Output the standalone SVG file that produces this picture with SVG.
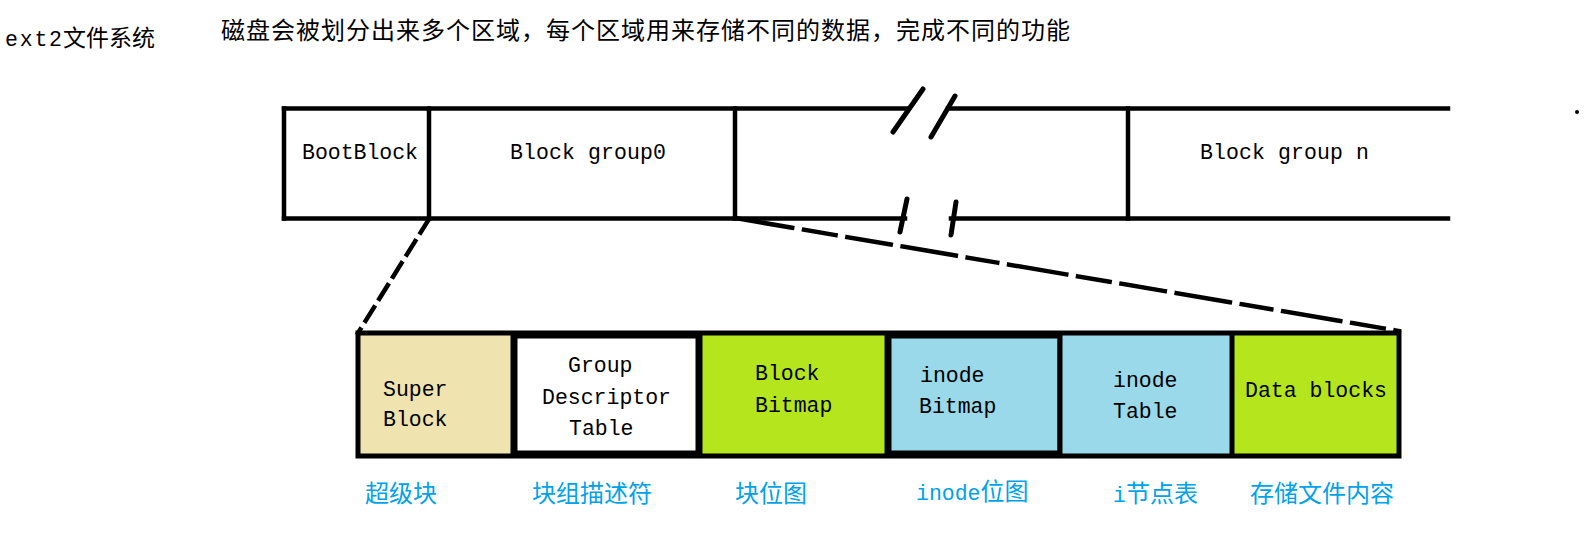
<svg xmlns="http://www.w3.org/2000/svg" width="1590" height="537" viewBox="0 0 1590 537">
<style>
.lat{font-family:"Liberation Mono","DejaVu Sans Mono",monospace;font-size:21.5px;fill:#000}
.cjk{font-family:"Noto Sans CJK SC",sans-serif;fill:#000}
.lbl{font-family:"Noto Sans CJK SC",sans-serif;font-size:24px;fill:#00A2E8}
.lbll{font-family:"Liberation Mono",monospace;font-size:21.5px;fill:#00A2E8}
.ln{stroke:#000;stroke-width:4.5;fill:none;stroke-linecap:square}
.ln5{stroke:#000;stroke-width:5;fill:none}
.cut{stroke:#000;stroke-width:5;fill:none;stroke-linecap:round}
</style>
<rect width="1590" height="537" fill="#fff"/>
<g id="header">
<text class="lat" x="5" y="46" font-size="23" textLength="57" lengthAdjust="spacing">ext2</text>
<text class="cjk" x="63" y="46" font-size="23">文件系统</text>
<text class="cjk" x="221" y="39" font-size="24" textLength="849" lengthAdjust="spacing">磁盘会被划分出来多个区域，每个区域用来存储不同的数据，完成不同的功能</text>
<circle cx="1577" cy="112" r="2" fill="#000"/>
</g>
<g id="disk">
<line class="ln" x1="284" y1="108.5" x2="906" y2="108.5"/>
<line class="ln" x1="948" y1="108.5" x2="1448" y2="108.5"/>
<line class="ln" x1="284" y1="218.5" x2="905" y2="218.5"/>
<line class="ln" x1="951" y1="218.5" x2="1448" y2="218.5"/>
<line class="ln" x1="284" y1="108.5" x2="284" y2="218.5"/>
<line class="cut" x1="923" y1="89" x2="893" y2="132"/>
<line class="cut" x1="955" y1="96" x2="931" y2="137"/>
<line class="cut" x1="907" y1="199" x2="900" y2="232"/>
<line class="cut" x1="956" y1="202" x2="951" y2="235"/>
</g>
<g id="bootblock">
<line class="ln" x1="429" y1="108.5" x2="429" y2="218.5"/>
<text class="lat" x="302" y="159" textLength="116" lengthAdjust="spacing">BootBlock</text>
</g>
<g id="blockgroup0">
<line class="ln" x1="735" y1="108.5" x2="735" y2="218.5"/>
<text class="lat" x="510" y="159" textLength="156" lengthAdjust="spacing">Block group0</text>
</g>
<g id="blockgroupn">
<line class="ln" x1="1128" y1="108.5" x2="1128" y2="218.5"/>
<text class="lat" x="1200" y="159" textLength="169" lengthAdjust="spacing">Block group n</text>
</g>
<g id="connectors">
<line class="ln" x1="429" y1="219" x2="358" y2="333" stroke-dasharray="16 10" stroke-linecap="butt"/>
<line class="ln" x1="735" y1="218" x2="1399" y2="331" stroke-width="5" stroke-dasharray="58 12 32 12 44 12 54 12 30 12" stroke-linecap="butt"/>
</g>
<g id="superblock">
<rect x="358" y="333" width="155" height="123" fill="#EFE4B0"/>
<text class="lat" x="383" y="396">Super</text>
<text class="lat" x="383" y="426">Block</text>
<text class="lbl" x="365" y="502">超级块</text>
</g>
<g id="gdt">
<rect x="513" y="333" width="187" height="123" fill="#fff"/>
<rect class="ln5" x="515" y="336" width="183" height="117"/>
<text class="lat" x="568" y="372">Group</text>
<text class="lat" x="542" y="404">Descriptor</text>
<text class="lat" x="569" y="435">Table</text>
<text class="lbl" x="532" y="502">块组描述符</text>
</g>
<g id="blockbitmap">
<rect x="700" y="333" width="187" height="123" fill="#B5E61D"/>
<text class="lat" x="755" y="380">Block</text>
<text class="lat" x="755" y="412">Bitmap</text>
<text class="lbl" x="735" y="502">块位图</text>
</g>
<g id="inodebitmap">
<rect x="887" y="333" width="173" height="123" fill="#99D9EA"/>
<rect class="ln5" x="889" y="336" width="171" height="117"/>
<text class="lat" x="920" y="382">inode</text>
<text class="lat" x="919" y="413">Bitmap</text>
<text x="916" y="500"><tspan class="lbll">inode</tspan><tspan class="lbl">位图</tspan></text>
</g>
<g id="inodetable">
<rect x="1060" y="333" width="172" height="123" fill="#99D9EA"/>
<text class="lat" x="1113" y="387">inode</text>
<text class="lat" x="1113" y="418">Table</text>
<text x="1113" y="502"><tspan class="lbll">i</tspan><tspan class="lbl">节点表</tspan></text>
</g>
<g id="datablocks">
<rect x="1232" y="333" width="167" height="123" fill="#B5E61D"/>
<text class="lat" x="1245" y="397" textLength="142" lengthAdjust="spacing">Data blocks</text>
<text class="lbl" x="1250" y="502">存储文件内容</text>
</g>
<g id="groupframe">
<rect class="ln5" x="358" y="333" width="1041" height="123"/>
<line class="ln5" x1="513" y1="333" x2="513" y2="456"/>
<line class="ln5" x1="700" y1="333" x2="700" y2="456"/>
<line class="ln5" x1="887" y1="333" x2="887" y2="456"/>
<line class="ln5" x1="1060" y1="333" x2="1060" y2="456"/>
<line class="ln5" x1="1232" y1="333" x2="1232" y2="456"/>
</g>
</svg>
